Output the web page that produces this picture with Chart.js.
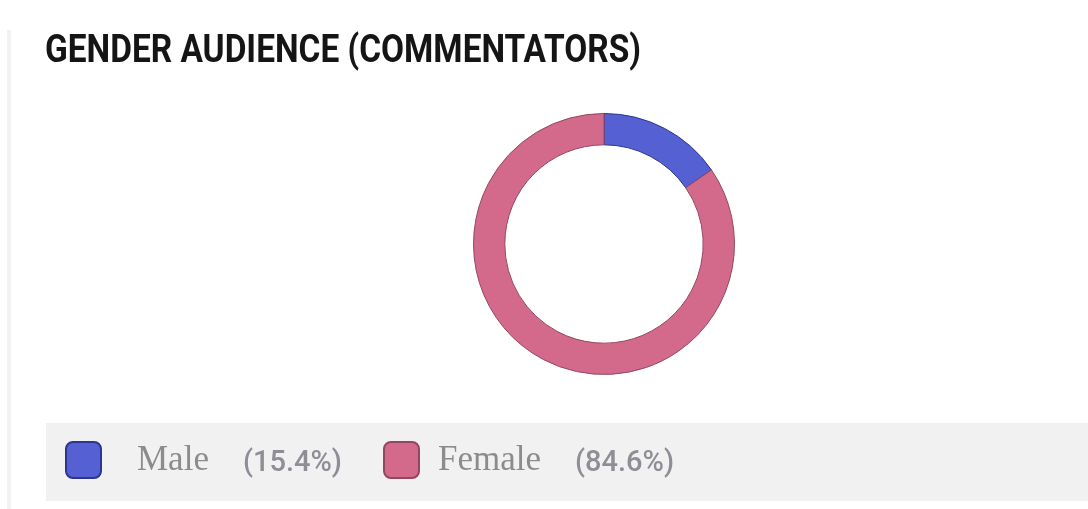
<!DOCTYPE html>
<html>
<head>
<meta charset="utf-8">
<title>Gender audience</title>
<script src="https://cdn.jsdelivr.net/npm/chart.js@4/dist/chart.umd.min.js"></script>
<style>
  html, body { margin: 0; padding: 0; background: #fff; }
  #wrap { width: 1088px; height: 509px; }
</style>
</head>
<body>
<div id="wrap"><canvas id="gender" width="1088" height="509"></canvas></div>
<script>
// chart data
const titleText = 'GENDER AUDIENCE (COMMENTATORS)'
const genders = ['Male', 'Female']
const shares = [15.4, 84.6]
const fills = ['#5560d2', '#d36a8b']
const borders = ['#2c3690', '#94465f']

// title + custom legend bar drawn on the canvas
const decor = {
  id: 'decor',
  afterDraw(chart) {
    const ctx = chart.ctx
    ctx.save()

    // faint left rule
    ctx.fillStyle = '#f2f2f2'
    ctx.fillRect(7, 30, 4, 479)

    // title, squeezed to look like the condensed original
    ctx.font = 'bold 39px Roboto'
    ctx.fillStyle = '#151515'
    ctx.textBaseline = 'alphabetic'
    const tw = ctx.measureText(titleText).width
    ctx.save()
    ctx.translate(45, 62)
    ctx.scale(596 / tw, 1)
    ctx.fillText(titleText, 0, 0)
    ctx.restore()

    // legend strip
    ctx.fillStyle = '#f1f1f1'
    ctx.fillRect(46, 423, 1042, 78)

    const ds = chart.data.datasets[0]
    const boxX = [66, 384]
    const labelGap = [71, 54]
    chart.data.labels.forEach((lab, i) => {
      let x = boxX[i]
      ctx.beginPath()
      ctx.roundRect(x, 442, 35, 36, 7)
      ctx.fillStyle = ds.backgroundColor[i]
      ctx.fill()
      ctx.lineWidth = 2
      ctx.strokeStyle = ds.borderColor[i]
      ctx.stroke()
      x += labelGap[i]

      ctx.font = '35px "Liberation Serif"'
      ctx.fillStyle = '#8c8c8c'
      ctx.fillText(lab, x, 470)
      x += ctx.measureText(lab).width + 34

      const pct = '(' + ds.data[i].toFixed(1) + '%)'
      ctx.font = '500 29px Roboto'
      ctx.fillStyle = '#8e8e96'
      ctx.fillText(pct, x, 471)
    })
    ctx.restore()
  }
}

new Chart(document.getElementById('gender'), {
  type: 'doughnut',
  data: {
    labels: genders,
    datasets: [{
      data: shares,
      backgroundColor: fills,
      borderColor: borders,
      borderWidth: 1,
      hoverOffset: 0
    }]
  },
  options: {
    responsive: false,
    animation: false,
    cutout: '76%',
    layout: {
      padding: { top: 113, bottom: 134, left: 120, right: 0 }
    },
    plugins: {
      legend: { display: false },
      title: { display: false },
      tooltip: { enabled: false }
    }
  },
  plugins: [decor]
})
</script>
</body>
</html>
